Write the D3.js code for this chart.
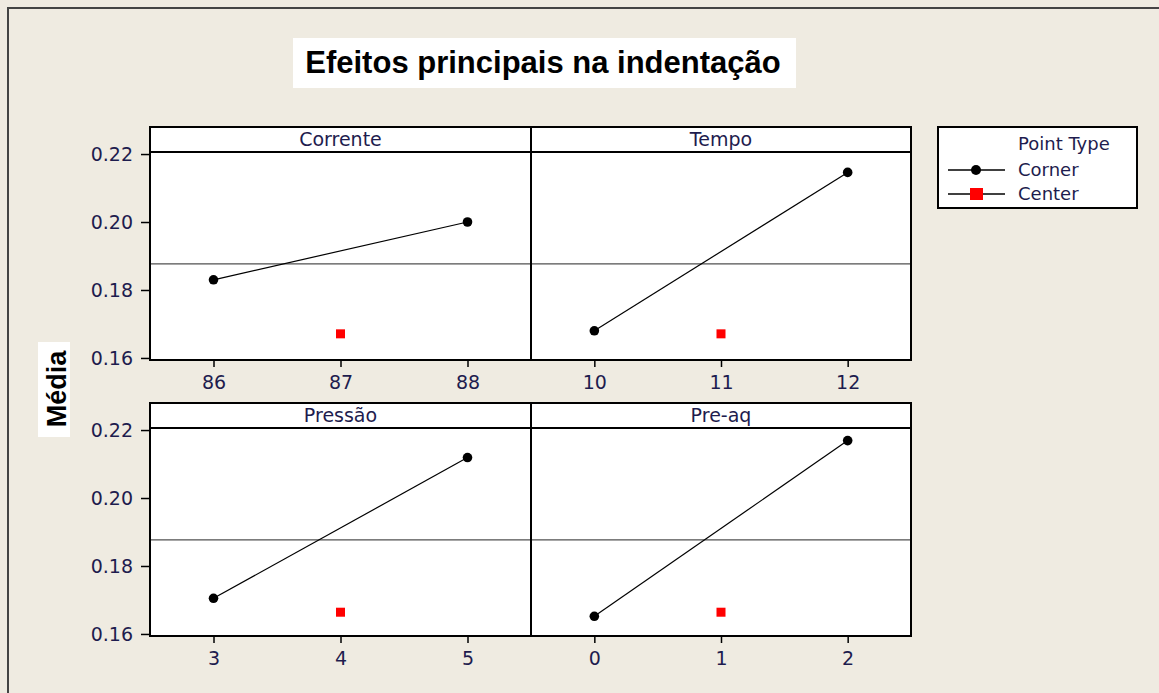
<!DOCTYPE html>
<html>
<head>
<meta charset="utf-8">
<script src="https://cdn.jsdelivr.net/npm/d3@7"></script>
<style>
  body { margin: 0; background: #efebe1; }
  svg { display: block; }
  .tick text { font-family: "DejaVu Sans", Verdana, sans-serif; font-size: 19px; fill: #1e1c4e; }
</style>
</head>
<body>
<div id="chart"></div>
<script>
// main effects plot (Minitab style)
var factors = ["Corrente", "Tempo", "Pressão", "Pre-aq"];
var levels = [[86, 87, 88], [10, 11, 12], [3, 4, 5], [0, 1, 2]];
var cornerLow = [0.1830, 0.1680, 0.1705, 0.1652];
var cornerHigh = [0.2000, 0.2146, 0.2119, 0.2169];
var centerMean = [0.1671, 0.1671, 0.1664, 0.1664];
var grandMean = 0.1877;
var yTicks = [0.16, 0.18, 0.20, 0.22];

var W = 1159, H = 693;
var txtColor = "#1e1c4e";

var svg = d3.select("#chart").append("svg")
  .attr("width", W)
  .attr("height", H);

// outer frame, runs off the right and bottom
svg.append("rect")
  .attr("x", 8).attr("y", 8)
  .attr("width", W + 20).attr("height", H + 20)
  .attr("fill", "none")
  .attr("stroke", "#444")
  .attr("stroke-width", 2);

// title
svg.append("rect")
  .attr("x", 293).attr("y", 38)
  .attr("width", 503).attr("height", 50)
  .attr("fill", "#fff");
svg.append("text")
  .attr("x", 543).attr("y", 73)
  .attr("text-anchor", "middle")
  .style("font-family", "'Liberation Sans', Arial, sans-serif")
  .style("font-weight", "bold")
  .style("font-size", "31px")
  .text("Efeitos principais na indentação");

// y label
svg.append("rect")
  .attr("x", 38).attr("y", 342)
  .attr("width", 32).attr("height", 95)
  .attr("fill", "#fff");
svg.append("text")
  .attr("transform", "translate(66,389) rotate(-90)")
  .attr("text-anchor", "middle")
  .style("font-family", "'Liberation Sans', Arial, sans-serif")
  .style("font-weight", "bold")
  .style("font-size", "27px")
  .text("Média");

// panel layout
var colX = [150, 531, 911];
var rowTop = [127, 403];
var stripH = 25;
var plotH = 208;

factors.forEach(function(name, i) {
  var c = i % 2, r = Math.floor(i / 2);
  var x0 = colX[c], x1 = colX[c + 1];
  var top = rowTop[r];
  var pTop = top + stripH, pBot = pTop + plotH;
  var lv = levels[i];

  var x = d3.scaleLinear()
    .domain([lv[0] - 0.5, lv[2] + 0.5])
    .range([x0, x1]);
  var y = d3.scaleLinear()
    .domain([0.1594, 0.2206])
    .range([pBot, pTop]);

  var g = svg.append("g");

  g.append("rect")
    .attr("x", x0).attr("y", top)
    .attr("width", x1 - x0).attr("height", pBot - top)
    .attr("fill", "#fff");

  // grand mean line
  g.append("line")
    .attr("x1", x0).attr("x2", x1)
    .attr("y1", y(grandMean)).attr("y2", y(grandMean))
    .attr("stroke", "#505050")
    .attr("stroke-width", 1.2);

  // corner points
  var pts = [{lv: lv[0], v: cornerLow[i]}, {lv: lv[2], v: cornerHigh[i]}];
  g.append("path")
    .datum(pts)
    .attr("fill", "none")
    .attr("stroke", "#000")
    .attr("stroke-width", 1.2)
    .attr("d", d3.line()
      .x(function(d) { return x(d.lv); })
      .y(function(d) { return y(d.v); }));
  g.selectAll(".pt")
    .data(pts)
    .enter().append("circle")
    .attr("cx", function(d) { return x(d.lv); })
    .attr("cy", function(d) { return y(d.v); })
    .attr("r", 4.8)
    .attr("fill", "#000");

  // center point
  g.append("rect")
    .attr("x", x(lv[1]) - 4.5)
    .attr("y", y(centerMean[i]) - 4.5)
    .attr("width", 9).attr("height", 9)
    .attr("fill", "#ff0000");

  // strip
  g.append("line")
    .attr("x1", x0).attr("x2", x1)
    .attr("y1", pTop).attr("y2", pTop)
    .attr("stroke", "#000").attr("stroke-width", 2);
  g.append("text")
    .attr("x", (x0 + x1) / 2).attr("y", top + 19)
    .attr("text-anchor", "middle")
    .style("font-family", "'DejaVu Sans', Verdana, sans-serif")
    .style("font-size", "19px")
    .attr("fill", txtColor)
    .text(name);

  g.append("rect")
    .attr("x", x0).attr("y", top)
    .attr("width", x1 - x0).attr("height", pBot - top)
    .attr("fill", "none")
    .attr("stroke", "#000")
    .attr("stroke-width", 2);

  // x axis
  var xa = g.append("g")
    .attr("transform", "translate(0," + (pBot + 1) + ")")
    .call(d3.axisBottom(x).tickValues(lv).tickSize(6).tickPadding(9).tickFormat(d3.format("d")));
  xa.select(".domain").remove();
  xa.selectAll("line").attr("stroke", "#000").attr("stroke-width", 1.5);

  // y axis on left column only
  if (c == 0) {
    var ya = g.append("g")
      .attr("transform", "translate(" + (x0 - 1) + ",0)")
      .call(d3.axisLeft(y).tickValues(yTicks).tickSize(8).tickPadding(8).tickFormat(d3.format(".2f")));
    ya.select(".domain").remove();
    ya.selectAll("line").attr("stroke", "#000").attr("stroke-width", 1.5);
  }
});

// legend
var leg = svg.append("g");
leg.append("rect")
  .attr("x", 938).attr("y", 127)
  .attr("width", 199).attr("height", 81)
  .attr("fill", "#fff")
  .attr("stroke", "#000")
  .attr("stroke-width", 2);
var legFont = "'DejaVu Sans', Verdana, sans-serif";
leg.append("text")
  .attr("x", 1018).attr("y", 150)
  .style("font-family", legFont).style("font-size", "18px")
  .attr("fill", txtColor)
  .text("Point Type");
var legItems = ["Corner", "Center"];
legItems.forEach(function(lbl, k) {
  var yy = 170 + k * 24;
  leg.append("line")
    .attr("x1", 948).attr("x2", 1005)
    .attr("y1", yy).attr("y2", yy)
    .attr("stroke", "#000").attr("stroke-width", 1.3);
  if (k == 0) {
    leg.append("circle").attr("cx", 976).attr("cy", yy).attr("r", 5).attr("fill", "#000");
  } else {
    leg.append("rect").attr("x", 970).attr("y", yy - 6).attr("width", 13).attr("height", 12).attr("fill", "#ff0000");
  }
  leg.append("text")
    .attr("x", 1018).attr("y", yy + 6)
    .style("font-family", legFont).style("font-size", "18px")
    .attr("fill", txtColor)
    .text(lbl);
});
</script>
</body>
</html>
